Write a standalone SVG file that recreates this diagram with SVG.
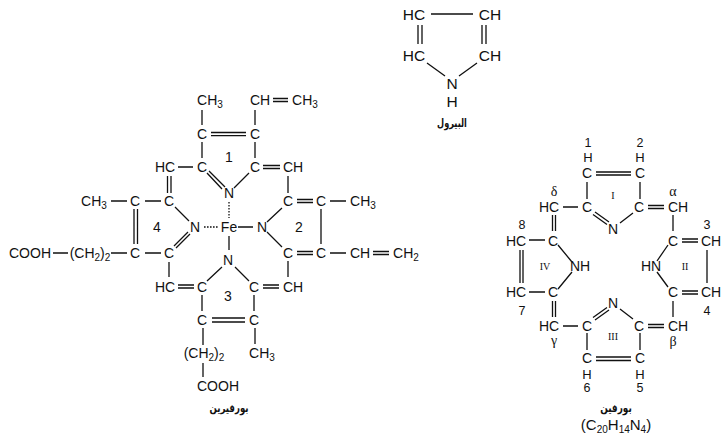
<svg xmlns="http://www.w3.org/2000/svg" width="726" height="438" viewBox="0 0 726 438">
<style>
text{font-family:"Liberation Sans",Arial,sans-serif;font-size:14px;fill:#111;text-anchor:middle}
.p{font-size:15.5px}
.f{font-size:15px}
.n{font-size:12.5px}
.h{font-size:13px}
.s{font-family:"Liberation Serif","Times New Roman",serif;font-size:10px}
.g{font-family:"Liberation Serif","Times New Roman",serif;font-size:14px}
.a{font-family:"DejaVu Sans",sans-serif;font-size:10.5px;font-weight:bold}
#connectors path{fill:none;stroke:#111;stroke-width:1.3}
#connectors .d{stroke-dasharray:1.6 1.4}
</style>
<rect width="726" height="438" fill="#fff"/>
<g id="connectors">
<path d="M202 110V125M211 132.5H246M211 135.7H246M255 110V125M273 98.5H288M273 101.5H288M202 142V158M255 142V158M178 167H193M209 171L225 187M207 173L222 189M249 173L234 188M263 165.5H280M263 168.5H280M288 176V193M167.5 176V193M171 176V193"/>
<path class="d" d="M229 202V218M204 227H219"/>
<path d="M238 227H253M229 236V250M297 199.5H313M297 202.5H313M330 201H346M282 208L267 222M267 232L282 247M321 209V244M297 251.5H313M297 254.5H313M330 253H346M373 251.5H389M373 254.5H389M111 201H127M145 201H161M134 209V244M137.5 209V244M175 207L189 221M188 232L174 246M190 234L176 248M53 253H68M111 253H127M145 253H161"/>
<path d="M169 262V277M288 261V277M178 285H194M178 288H194M263 285H279M263 288H279M222 267L207 281M235 267L249 281M202 295V311M254 295V311M212 318H245M212 322H245M203 328V345M255 328V344M203 363V377"/>
<path d="M431 14H473M418 25V44M422 25V44M482 25V44M486 25V44M427 63L445 76M477 63L459 76"/>
<path d="M596 172H631M596 175H631M587 182V199M640 182V199M563 207H578M595 212L609 222M593 214.500L607 224.500M620 223L633 213M648 205.500H664M648 208.500H664M673 215V231M552.500 215V231M555.500 215V231M529 240H545M682 239H698M682 242H698M520 250V283M523 250V283M707 250V283M558 245L572 262M572 272L558 289M668 245L657 261M657 272L668 287"/>
<path d="M529 292H545M682 291H698M682 294H698M552.500 301V317M555.500 301V317M673 301V317M563 326H578M595 320L609 310M593 317.500L607 307.500M620 309L633 319M648 324.500H664M648 327.500H664M587 333V350M640 333V350M596 357H631M596 360.500H631"/>
</g>
<g id="porphyrin-atoms">
<g id="p-ch3a"><text x="210" y="105">CH<tspan font-size="10" dy="3">3</tspan></text></g>
<g id="p-cha"><text x="260" y="105">CH</text></g>
<g id="p-ch3b"><text x="305" y="105">CH<tspan font-size="10" dy="3">3</tspan></text></g>
<g id="p-c1"><text x="202" y="139">C</text></g>
<g id="p-c2"><text x="255" y="139">C</text></g>
<g id="p-hc1"><text x="165" y="172">HC</text></g>
<g id="p-c3"><text x="202" y="172">C</text></g>
<g id="p-c4"><text x="255" y="172">C</text></g>
<g id="p-ch1"><text x="293" y="172">CH</text></g>
<g id="p-r1"><text x="229" y="162">1</text></g>
<g id="p-n1"><text x="229" y="198">N</text></g>
<g id="p-fe"><text x="229" y="232">Fe</text></g>
<g id="p-n4"><text x="195" y="232">N</text></g>
<g id="p-n2"><text x="262" y="232">N</text></g>
<g id="p-n3"><text x="228" y="265">N</text></g>
<g id="p-c5"><text x="169" y="206">C</text></g>
<g id="p-c6"><text x="135" y="206">C</text></g>
<g id="p-ch3c"><text x="94" y="206">CH<tspan font-size="10" dy="3">3</tspan></text></g>
<g id="p-r4"><text x="157" y="232">4</text></g>
<g id="p-c7"><text x="135" y="258">C</text></g>
<g id="p-c8"><text x="169" y="258">C</text></g>
<g id="p-ch2a"><text x="90" y="258">(CH<tspan font-size="10" dy="3">2</tspan><tspan dy="-3">)</tspan><tspan font-size="10" dy="3">2</tspan></text></g>
<g id="p-cooha"><text x="30" y="258">COOH</text></g>
<g id="p-c9"><text x="288" y="206">C</text></g>
<g id="p-c10"><text x="321" y="206">C</text></g>
<g id="p-ch3d"><text x="363" y="206">CH<tspan font-size="10" dy="3">3</tspan></text></g>
<g id="p-r2"><text x="299" y="232">2</text></g>
<g id="p-c11"><text x="288" y="258">C</text></g>
<g id="p-c12"><text x="321" y="258">C</text></g>
<g id="p-ch2"><text x="360" y="258">CH</text></g>
<g id="p-ch2b"><text x="406" y="258">CH<tspan font-size="10" dy="3">2</tspan></text></g>
<g id="p-hc2"><text x="165" y="292">HC</text></g>
<g id="p-c13"><text x="202" y="292">C</text></g>
<g id="p-c14"><text x="254" y="292">C</text></g>
<g id="p-ch3"><text x="293" y="292">CH</text></g>
<g id="p-r3"><text x="228" y="301">3</text></g>
<g id="p-c15"><text x="202" y="325">C</text></g>
<g id="p-c16"><text x="254" y="325">C</text></g>
<g id="p-ch2c"><text x="204" y="358">(CH<tspan font-size="10" dy="3">2</tspan><tspan dy="-3">)</tspan><tspan font-size="10" dy="3">2</tspan></text></g>
<g id="p-ch3e"><text x="262" y="358">CH<tspan font-size="10" dy="3">3</tspan></text></g>
<g id="p-coohb"><text x="218" y="391">COOH</text></g>
<g id="p-title"><text class="a" transform="translate(229 412) scale(.82 1.1)" direction="rtl">بورفيرين</text></g>
</g>
<g id="pyrrole-atoms">
<g id="y-hc1"><text class="p" x="414" y="20">HC</text></g>
<g id="y-ch1"><text class="p" x="490" y="20">CH</text></g>
<g id="y-hc2"><text class="p" x="414" y="61">HC</text></g>
<g id="y-ch2"><text class="p" x="490" y="61">CH</text></g>
<g id="y-n"><text class="p" x="452" y="89">N</text></g>
<g id="y-h"><text class="p" x="452" y="107">H</text></g>
<g id="y-title"><text class="a" transform="translate(452 127) scale(.78 1.1)" direction="rtl">البيرول</text></g>
</g>
<g id="porphin-atoms">
<g id="q-1"><text class="n" x="588" y="147">1</text></g>
<g id="q-h1"><text class="h" x="588" y="161.500">H</text></g>
<g id="q-2"><text class="n" x="640" y="147">2</text></g>
<g id="q-h2"><text class="h" x="640" y="161.500">H</text></g>
<g id="q-c1"><text x="587" y="178">C</text></g>
<g id="q-c2"><text x="640" y="178">C</text></g>
<g id="q-ri"><text class="s" x="613" y="199">I</text></g>
<g id="q-delta"><text class="g" x="554" y="196">δ</text></g>
<g id="q-hc1"><text x="549" y="212">HC</text></g>
<g id="q-c3"><text x="587" y="212">C</text></g>
<g id="q-c4"><text x="639" y="212">C</text></g>
<g id="q-alpha"><text class="g" x="673" y="196">α</text></g>
<g id="q-ch1"><text x="678" y="212">CH</text></g>
<g id="q-n1"><text x="613" y="234">N</text></g>
<g id="q-8"><text class="n" x="522" y="228.500">8</text></g>
<g id="q-3"><text class="n" x="707" y="228.500">3</text></g>
<g id="q-hc2"><text x="516" y="246">HC</text></g>
<g id="q-c5"><text x="553" y="246">C</text></g>
<g id="q-c6"><text x="673" y="246">C</text></g>
<g id="q-ch2"><text x="711" y="246">CH</text></g>
<g id="q-riv"><text class="s" x="545" y="270">IV</text></g>
<g id="q-nh"><text x="580" y="271">NH</text></g>
<g id="q-hn"><text x="651" y="271">HN</text></g>
<g id="q-rii"><text class="s" x="685" y="270">II</text></g>
<g id="q-hc3"><text x="516" y="297">HC</text></g>
<g id="q-c7"><text x="553" y="297">C</text></g>
<g id="q-c8"><text x="673" y="297">C</text></g>
<g id="q-ch3"><text x="711" y="297">CH</text></g>
<g id="q-7"><text class="n" x="522" y="314.500">7</text></g>
<g id="q-4"><text class="n" x="707" y="314.500">4</text></g>
<g id="q-n2"><text x="613" y="308">N</text></g>
<g id="q-hc4"><text x="549" y="331">HC</text></g>
<g id="q-c9"><text x="587" y="331">C</text></g>
<g id="q-c10"><text x="639" y="331">C</text></g>
<g id="q-ch4"><text x="678" y="331">CH</text></g>
<g id="q-gamma"><text class="g" x="554" y="345">γ</text></g>
<g id="q-beta"><text class="g" x="673" y="346">β</text></g>
<g id="q-riii"><text class="s" x="613" y="340">III</text></g>
<g id="q-c11"><text x="587" y="363">C</text></g>
<g id="q-c12"><text x="640" y="363">C</text></g>
<g id="q-h3"><text class="h" x="587" y="378.500">H</text></g>
<g id="q-h4"><text class="h" x="640" y="378.500">H</text></g>
<g id="q-6"><text class="n" x="587" y="392">6</text></g>
<g id="q-5"><text class="n" x="640" y="392">5</text></g>
<g id="q-title"><text class="a" transform="translate(616 412) scale(.85 1.1)" direction="rtl">بورفين</text></g>
<g id="q-formula"><text class="f" x="616" y="430">(C<tspan font-size="10" dy="3">20</tspan><tspan dy="-3">H</tspan><tspan font-size="10" dy="3">14</tspan><tspan dy="-3">N</tspan><tspan font-size="10" dy="3">4</tspan><tspan dy="-3">)</tspan></text></g>
</g>
</svg>
